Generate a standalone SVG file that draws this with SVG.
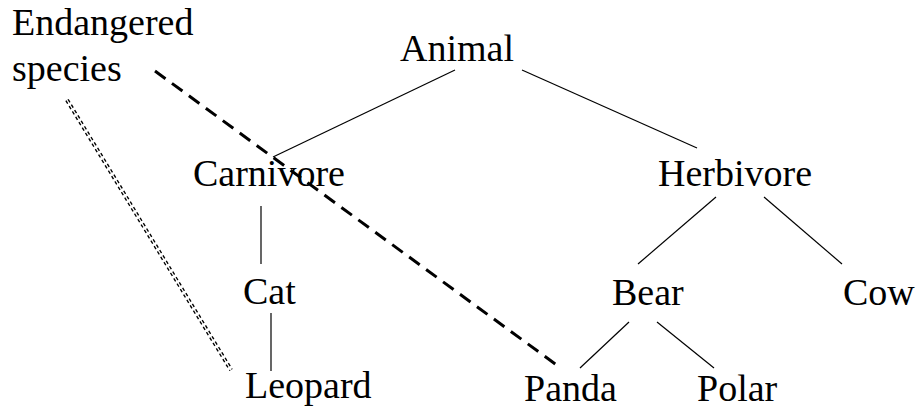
<svg xmlns="http://www.w3.org/2000/svg" width="917" height="410" viewBox="0 0 917 410">
  <style>
    text { font-family: "Liberation Serif", "Times New Roman", serif; font-size: 38px; fill: #000; }
    .edge { stroke: #000; stroke-width: 1.2; fill: none; }
    .dashed { stroke: #000; stroke-width: 3; stroke-dasharray: 13 8; fill: none; }
    .dbl { stroke: #000; stroke-width: 4; stroke-dasharray: 3.5 2.8; fill: none; }
    .dbl-core { stroke: #fff; stroke-width: 1.3; fill: none; }
  </style>
  <rect width="917" height="410" fill="#fff"/>

  <g id="connectors">
    <line class="edge" x1="455" y1="70" x2="273" y2="157"/>
    <line class="edge" x1="522" y1="70" x2="697" y2="148"/>
    <line class="edge" x1="261" y1="206" x2="261" y2="264"/>
    <line class="edge" x1="271" y1="313" x2="271" y2="371"/>
    <line class="edge" x1="716" y1="197" x2="638" y2="264"/>
    <line class="edge" x1="764" y1="197" x2="842" y2="264"/>
    <line class="edge" x1="629" y1="322" x2="580" y2="368"/>
    <line class="edge" x1="657" y1="322" x2="714" y2="368"/>
    <line class="dashed" x1="155" y1="71" x2="558" y2="366"/>
    <g id="double-link">
      <line class="dbl" x1="67" y1="100" x2="231" y2="370"/>
      <line class="dbl-core" x1="67" y1="100" x2="231" y2="370"/>
    </g>
  </g>

  <g id="endangered"><text x="12" y="35">Endangered</text><text x="12" y="81">species</text></g>
  <g id="animal"><text x="400" y="61">Animal</text></g>
  <g id="carnivore"><text x="193" y="186">Carnivore</text></g>
  <g id="herbivore"><text x="658" y="186">Herbivore</text></g>
  <g id="cat"><text x="243" y="304">Cat</text></g>
  <g id="bear"><text x="612" y="305">Bear</text></g>
  <g id="cow"><text x="843" y="305">Cow</text></g>
  <g id="leopard"><text x="245" y="398">Leopard</text></g>
  <g id="panda"><text x="524" y="401">Panda</text></g>
  <g id="polar"><text x="697" y="401">Polar</text></g>
</svg>
